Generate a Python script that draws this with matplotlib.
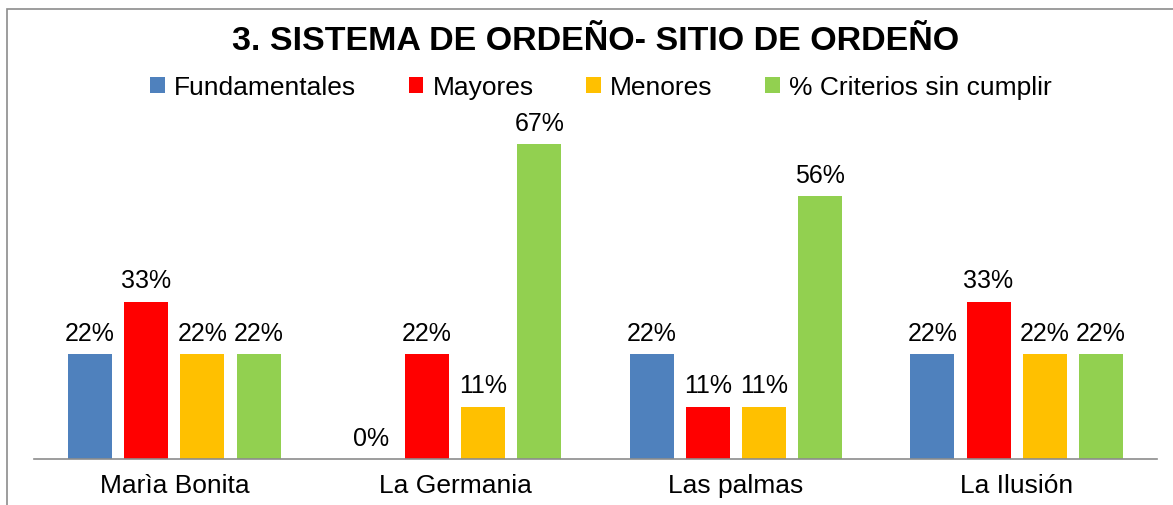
import numpy as np
import matplotlib.pyplot as plt
from matplotlib.patches import Patch, Rectangle

plt.rcParams['font.family'] = ['Liberation Sans', 'DejaVu Sans']

categorias = ['Marìa Bonita', 'La Germania', 'Las palmas', 'La Ilusión']
series = ['Fundamentales', 'Mayores', 'Menores', '% Criterios sin cumplir']
fundamentales = [0.222, 0.0, 0.222, 0.222]
mayores = [0.333, 0.222, 0.111, 0.333]
menores = [0.222, 0.111, 0.111, 0.222]
sin_cumplir = [0.222, 0.667, 0.556, 0.222]
colores = ['#4F81BD', '#FF0000', '#FFC000', '#92D050']

W, H = 1173, 506
fig = plt.figure(figsize=(W / 100, H / 100), dpi=100)
ax = fig.add_axes([34 / W, 46 / H, 1123 / W, 378 / H])

# marco del gráfico (recortado a la derecha y abajo)
fig.patches.append(Rectangle((7 / W, -0.1), 1.2, (496 / H) + 0.1,
                             transform=fig.transFigure, fill=False,
                             edgecolor='#8c8c8c', linewidth=1.2))

x = np.arange(len(categorias))
ancho = 0.157
valores = [fundamentales, mayores, menores, sin_cumplir]
for i, (vals, c) in enumerate(zip(valores, colores)):
    pos = x + (i - 1.5) * 0.2
    ax.bar(pos, vals, width=ancho, color=c)
    for p, v in zip(pos, vals):
        ax.text(p, v + 0.03, f'{v:.0%}', ha='center', va='baseline', fontsize=18)

ax.set_xlim(-0.5, 3.5)
ax.set_ylim(0, 0.8)
ax.set_yticks([])
ax.set_xticks(x)
ax.set_xticklabels(categorias, fontsize=19)
ax.tick_params(axis='x', length=0, pad=10)
for s in ['top', 'right', 'left']:
    ax.spines[s].set_visible(False)
ax.spines['bottom'].set_color('#8c8c8c')
ax.spines['bottom'].set_linewidth(1.2)

fig.text(596 / W, 1 - 42 / H, '3. SISTEMA DE ORDEÑO- SITIO DE ORDEÑO', ha='center', va='center',
         fontsize=24.5, fontweight='bold')

handles = [Patch(facecolor=c) for c in colores]
fig.legend(handles, series, loc='center', bbox_to_anchor=(601 / W, 1 - 88 / H), ncol=4,
           frameon=False, fontsize=19, handlelength=0.55, handleheight=0.55,
           handletextpad=0.35, columnspacing=2.0)

fig.savefig('out.png', dpi=100)
